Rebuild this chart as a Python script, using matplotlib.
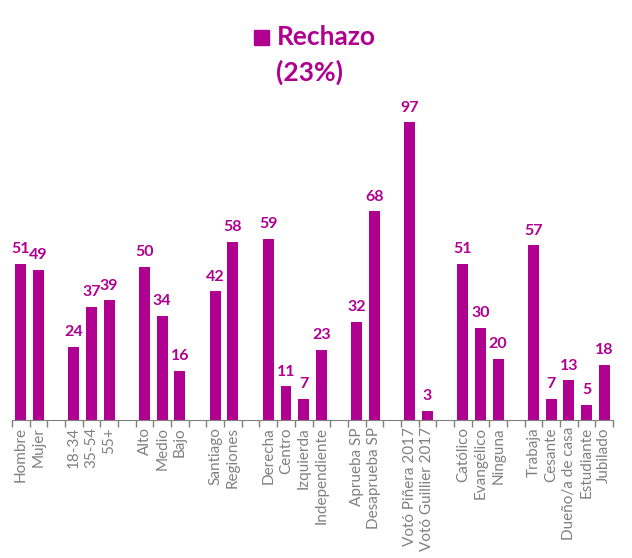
import matplotlib.pyplot as plt
import matplotlib.patches as mpatches
import numpy as np

# categorías ('' = hueco entre grupos)
categorias = ['Hombre', 'Mujer', '',
              '18-34', '35-54', '55+', '',
              'Alto', 'Medio', 'Bajo', '',
              'Santiago', 'Regiones', '',
              'Derecha', 'Centro', 'Izquierda', 'Independiente', '',
              'Aprueba SP', 'Desaprueba SP', '',
              'Votó Piñera 2017', 'Votó Guillier 2017', '',
              'Católico', 'Evangélico', 'Ninguna', '',
              'Trabaja', 'Cesante', 'Dueño/a de casa', 'Estudiante', 'Jubilado']
rechazo = [51, 49, None,
           24, 37, 39, None,
           50, 34, 16, None,
           42, 58, None,
           59, 11, 7, 23, None,
           32, 68, None,
           97, 3, None,
           51, 30, 20, None,
           57, 7, 13, 5, 18]

color = '#B0008F'
gris = '#808080'

plt.rcParams['font.family'] = ['Lato', 'DejaVu Sans']

fig = plt.figure(figsize=(6.32, 5.58), dpi=100)
ax = fig.add_axes([0.019, 0.247, 0.951, 0.583])

x = [i for i, v in enumerate(rechazo) if v is not None]
y = [v for v in rechazo if v is not None]
ax.bar(x, y, width=0.62, color=color)

for xi, yi in zip(x, y):
    ax.text(xi, yi + 2.5, str(yi), ha='center', va='bottom', color=color,
            fontsize=11.5, fontweight='bold')

n = len(categorias)
ax.set_xlim(-0.5, n - 0.5)
ax.set_ylim(0, 106)
ax.set_xticks(range(n))
ax.set_xticklabels(categorias, rotation=90, color=gris, fontsize=11)
ax.tick_params(axis='x', which='major', length=0, pad=5)
ax.set_xticks(np.arange(-0.5, n, 1), minor=True)
ax.tick_params(axis='x', which='minor', length=5, color=gris, width=1)
ax.set_yticks([])
for s in ['top', 'right', 'left']:
    ax.spines[s].set_visible(False)
ax.spines['bottom'].set_color(gris)

# título tipo leyenda
fig.patches.append(mpatches.Rectangle((0.402, 0.919), 0.0237, 0.0269,
                                      transform=fig.transFigure, color=color))
fig.text(0.438, 0.934, 'Rechazo', color=color, fontsize=19, fontweight='bold',
         ha='left', va='center')
fig.text(0.49, 0.871, '(23%)', color=color, fontsize=19, fontweight='bold',
         ha='center', va='center')

fig.savefig('out.png', dpi=100)
